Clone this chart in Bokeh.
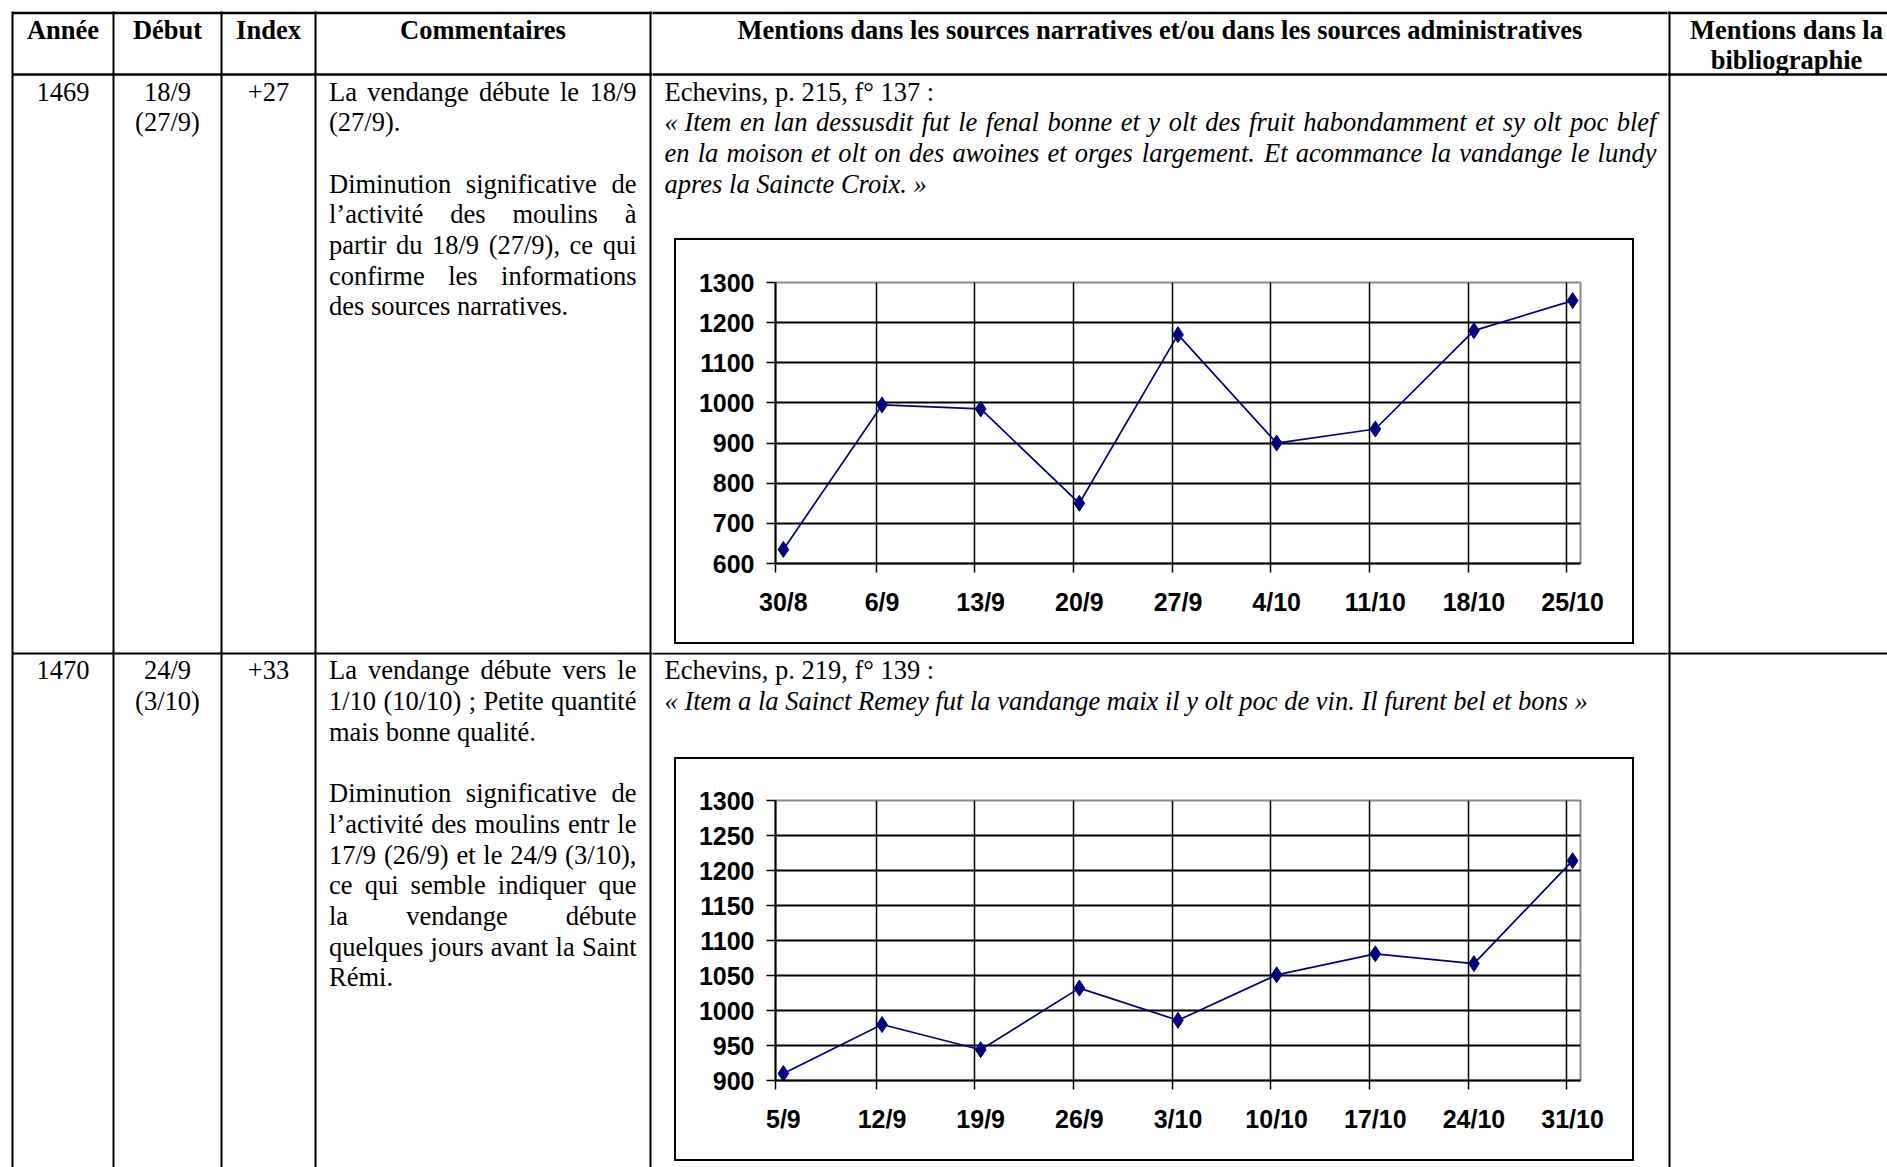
from bokeh.plotting import figure
from bokeh.models import Range1d, FixedTicker, ColumnDataSource
from bokeh.layouts import column, row
from bokeh.core.properties import value
from bokeh.embed import file_html
from bokeh.resources import INLINE

# ---------------- data ----------------
dates_1469 = ["30/8", "6/9", "13/9", "20/9", "27/9", "4/10", "11/10", "18/10", "25/10"]
mills_1469 = [635, 995, 985, 750, 1170, 900, 935, 1180, 1255]
dates_1470 = ["5/9", "12/9", "19/9", "26/9", "3/10", "10/10", "17/10", "24/10", "31/10"]
mills_1470 = [910, 980, 944, 1032, 986, 1051, 1081, 1067, 1214]

headers = ["Année", "Début", "Index", "Commentaires",
           "Mentions dans les sources narratives et/ou dans les sources administratives"]
header_last = ["Mentions dans la", "bibliographie"]

years = ["1469", "1470"]
debuts = [["18/9", "(27/9)"], ["24/9", "(3/10)"]]
indexes = ["+27", "+33"]
comments = [
    [("La vendange débute le 18/9", True), ("(27/9).", False), None,
     ("Diminution significative de", True), ("l’activité des moulins à", True),
     ("partir du 18/9 (27/9), ce qui", True), ("confirme les informations", True),
     ("des sources narratives.", False)],
    [("La vendange débute vers le", True), ("1/10 (10/10) ; Petite quantité", True),
     ("mais bonne qualité.", False), None,
     ("Diminution significative de", True), ("l’activité des moulins entr le", True),
     ("17/9 (26/9) et le 24/9 (3/10),", True), ("ce qui semble indiquer que", True),
     ("la vendange débute", True), ("quelques jours avant la Saint", True), ("Rémi.", False)],
]
sources = [
    [("Echevins, p. 215, f° 137 :", False, "normal"),
     ("«\u00a0Item en lan dessusdit fut le fenal bonne et y olt des fruit habondamment et sy olt poc blef", True, "italic"),
     ("en la moison et olt on des awoines et orges largement. Et acommance la vandange le lundy", True, "italic"),
     ("apres la Saincte Croix.\u00a0»", False, "italic")],
    [("Echevins, p. 219, f° 139 :", False, "normal"),
     ("«\u00a0Item a la Sainct Remey fut la vandange maix il y olt poc de vin. Il furent bel et bons\u00a0»", False, "italic")],
]

# ---------------- font metrics (Times / Liberation Serif, per 1000 em) ----------------
ROMAN = {' ': 250, '\u00a0': 250, '(': 333, ')': 333, '+': 564, ',': 250, '.': 250, '/': 278, ':': 278,
         ';': 278, '°': 400, '«': 500, '»': 500, '’': 333}
ROMAN.update({d: 500 for d in "0123456789"})
ROMAN.update(dict(zip("ABCDEFGHIJKLMNOPQRSTUVWXYZ",
                      [722, 667, 667, 722, 611, 556, 722, 722, 333, 389, 722, 611, 889, 722, 722, 556, 722, 667, 556, 611, 722, 722, 944, 722, 722, 611])))
ROMAN.update(dict(zip("abcdefghijklmnopqrstuvwxyz",
                      [444, 500, 444, 500, 444, 333, 500, 500, 278, 278, 500, 278, 778, 500, 500, 500, 500, 333, 389, 278, 500, 500, 722, 500, 500, 444])))
ROMAN.update({'é': 444, 'à': 444, 'è': 444})
ITAL = {' ': 250, '\u00a0': 250, '.': 250, ',': 250, '«': 500, '»': 500, ':': 333}
ITAL.update(dict(zip("ABCDEFGHIJKLMNOPQRSTUVWXYZ",
                     [611, 611, 667, 722, 611, 611, 722, 722, 333, 444, 667, 556, 833, 667, 722, 611, 722, 611, 500, 556, 722, 611, 833, 611, 556, 556])))
ITAL.update(dict(zip("abcdefghijklmnopqrstuvwxyz",
                     [500, 500, 444, 500, 444, 278, 500, 500, 278, 278, 444, 278, 722, 500, 500, 500, 500, 389, 389, 278, 500, 444, 667, 444, 444, 389])))

FS = 26.5
LH = 30.7


def tw(s, style):
    table = ITAL if style == "italic" else ROMAN
    f = 1.06 if style == "bold" else 1.0
    return sum(table.get(c, 500) for c in s) * FS / 1000 * f


# ---------------- page geometry (window pixels) ----------------
PAGE_W, PAGE_H = 1887, 1167
COLS = [12, 113, 221, 315, 650, 1669, 1905]
ROW_Y = [12.5, 74, 653]
CENTER = [91.5, 670.3]      # centre of first text line of each row
TEXTS = []   # (x, y_centre, text, style, align)

for i, h in enumerate(headers):
    TEXTS.append(((COLS[i] + COLS[i + 1]) / 2, 30, h, "bold", "center"))
TEXTS.append((1786, 30, header_last[0], "bold", "center"))
TEXTS.append((1786, 59.5, header_last[1], "bold", "center"))

for r in range(2):
    y0 = CENTER[r]
    TEXTS.append(((COLS[0] + COLS[1]) / 2, y0, years[r], "normal", "center"))
    for i, t in enumerate(debuts[r]):
        TEXTS.append(((COLS[1] + COLS[2]) / 2, y0 + i * LH, t, "normal", "center"))
    TEXTS.append(((COLS[2] + COLS[3]) / 2, y0, indexes[r], "normal", "center"))
    blocks = [([(c[0], c[1], "normal") if c else None for c in comments[r]], COLS[3] + 13.5, COLS[4] - 14),
              (sources[r], COLS[4] + 14, COLS[5] - 13)]
    for lines, xl, xr in blocks:
        for i, ln in enumerate(lines):
            if ln is None:
                continue
            txt, just, style = ln
            y = y0 + i * LH
            words = txt.split(" ")
            if just and len(words) > 1:
                ws = [tw(w, style) for w in words]
                gap = (xr - xl - sum(ws)) / (len(words) - 1)
                x = xl
                for w, wd in zip(words, ws):
                    TEXTS.append((x, y, w, style, "left"))
                    x += wd + gap
            else:
                TEXTS.append((xl, y, txt, style, "left"))

SEGS = [(12, ROW_Y[0], 1905, ROW_Y[0], 2.5), (12, ROW_Y[1], 1905, ROW_Y[1], 2.5),
        (12, ROW_Y[2], 1905, ROW_Y[2], 2)]
SEGS += [(x, 11, x, 1200, 2) for x in COLS[:-1]]


def no_align(p):
    try:
        p.frame_align = False
    except Exception:
        pass


def make_bg(x0, x1, y0, y1):
    p = figure(width=x1 - x0, height=y1 - y0, x_range=Range1d(x0, x1), y_range=Range1d(y1, y0),
               x_axis_location=None, y_axis_location=None, toolbar_location=None,
               output_backend="svg", min_border=0, outline_line_color=None,
               background_fill_color=None, border_fill_color=None)
    no_align(p)
    p.styles = {"background-color": "white"}
    p.grid.grid_line_color = None
    segs = [s for s in SEGS if min(s[0], s[2]) - 3 <= x1 and max(s[0], s[2]) + 3 >= x0
            and min(s[1], s[3]) - 3 <= y1 and max(s[1], s[3]) + 3 >= y0]
    for w in sorted(set(s[4] for s in segs)):
        ss = [s for s in segs if s[4] == w]
        p.segment(x0=[s[0] for s in ss], y0=[s[1] for s in ss], x1=[s[2] for s in ss],
                  y1=[s[3] for s in ss], line_color="black", line_width=w)
    groups = {}
    for (x, y, t, style, align) in TEXTS:
        wd = tw(t, style)
        lx = x - wd / 2 if align == "center" else x
        if lx > x1 or lx + wd < x0 or y - 12 > y1 or y + 12 < y0:
            continue
        groups.setdefault((style, align), []).append((x, y - 0.5, t))
    for (style, align), items in groups.items():
        src = ColumnDataSource(dict(x=[i[0] for i in items], y=[i[1] for i in items],
                                    text=[i[2] for i in items]))
        p.text(x="x", y="y", text="text", source=src, text_font=value("Liberation Serif"),
               text_font_size=f"{FS}px", text_font_style=style, text_align=align,
               text_baseline="alphabetic", text_color="black")
    return p


def box_css(x0, x1, y0, y1, box):
    # black 2px rectangle (page coords of its outer edge) painted as inset shadows
    bl, br, bt, bb = box
    l, r, t, b = bl - x0 + 2, x1 - br + 2, bt - y0 + 2, y1 - bb + 2
    whites = [f"inset {l - 2}px 0 0 0 white", f"inset 0 {t - 2}px 0 0 white",
              f"inset -{r - 2}px 0 0 0 white", f"inset 0 -{b - 2}px 0 0 white"]
    blacks = [f"inset {l}px 0 0 0 black", f"inset 0 {t}px 0 0 black",
              f"inset -{r}px 0 0 0 black", f"inset 0 -{b}px 0 0 black"]
    return ", ".join(whites + blacks)


def make_chart(dates, vals, ymin, ymax, ystep, x0, x1, y0, y1, frame, box):
    fl, fr, ft, fb = frame
    xs = list(range(len(dates)))
    p = figure(width=x1 - x0, height=y1 - y0, x_range=Range1d(-0.08, xs[-1] + 0.08),
               y_range=Range1d(ymin, ymax), toolbar_location=None, output_backend="svg",
               min_border_left=fl - x0, min_border_right=x1 - fr, min_border_top=ft - y0,
               min_border_bottom=y1 - fb, outline_line_color="#8a8a8a", outline_line_width=2,
               background_fill_color="white", border_fill_color=None)
    no_align(p)
    p.styles = {"box-shadow": box_css(x0, x1, y0, y1, box), "background-color": "white"}
    grid_x = [k - 0.06 for k in xs[1:]]
    p.xaxis.ticker = FixedTicker(ticks=xs, minor_ticks=[-0.08] + grid_x)
    p.xaxis.major_label_overrides = {k: d for k, d in zip(xs, dates)}
    p.xgrid.ticker = FixedTicker(ticks=grid_x)
    p.yaxis.ticker = FixedTicker(ticks=list(range(ymin, ymax + 1, ystep)))
    p.ygrid.ticker = FixedTicker(ticks=list(range(ymin + ystep, ymax, ystep)))
    p.xgrid.grid_line_color = "black"
    p.xgrid.grid_line_width = 1.5
    p.ygrid.grid_line_color = "black"
    p.ygrid.grid_line_width = 2
    for ax in (p.xaxis, p.yaxis):
        ax.axis_line_color = "black"
        ax.axis_line_width = 2
        ax.major_label_text_font = "Liberation Sans"
        ax.major_label_text_font_style = "bold"
        ax.major_label_text_font_size = "25px"
        ax.major_label_text_color = "black"
        ax.major_tick_line_color = "black"
        ax.major_tick_line_width = 1.5
        ax.major_tick_in = 0
    p.xaxis.major_tick_out = 0
    p.xaxis.minor_tick_out = 9
    p.xaxis.minor_tick_in = 0
    p.xaxis.minor_tick_line_color = "black"
    p.xaxis.minor_tick_line_width = 1.5
    p.xaxis.major_label_standoff = 15
    p.yaxis.major_tick_out = 9
    p.yaxis.minor_tick_line_color = None
    p.yaxis.major_label_standoff = 12
    p.line(xs, vals, line_color="#000080", line_width=1.7)
    p.scatter(xs, vals, marker="diamond", size=16, fill_color="#000080", line_color="#000080")
    return p


MID_L, MID_R = 652, 1667
leftFig = make_bg(0, MID_L, 0, PAGE_H)
rightFig = make_bg(MID_R, PAGE_W, 0, PAGE_H)
midA = make_bg(MID_L, MID_R, 0, 229)
chart1 = make_chart(dates_1469, mills_1469, 600, 1300, 100, MID_L, MID_R, 229, 652,
                    (775, 1580, 282, 563), (674, 1634, 238, 644))
midC = make_bg(MID_L, MID_R, 652, 751)
chart2 = make_chart(dates_1470, mills_1470, 900, 1300, 50, MID_L, MID_R, 751, PAGE_H,
                    (775, 1580, 800, 1080), (674, 1634, 757, 1161))

page = row(leftFig, column(midA, chart1, midC, chart2), rightFig)
open("out.html", "w").write(file_html(page, INLINE))
